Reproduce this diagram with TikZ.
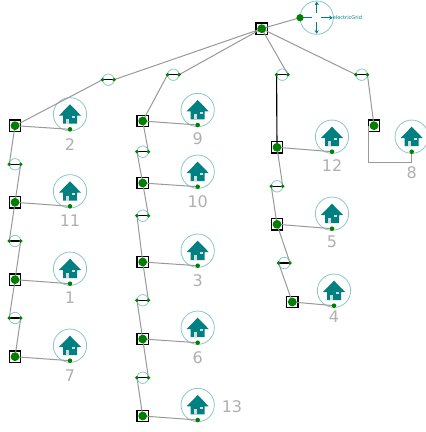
\documentclass[tikz,border=0pt]{standalone}
\usepackage{fontspec}
\setmainfont{DejaVu Sans}
\usetikzlibrary{arrows.meta,calc}
\definecolor{tealmain}{HTML}{008080}
\definecolor{tealring}{HTML}{8CC8C8}
\definecolor{busgreen}{HTML}{008000}
\definecolor{wiregray}{HTML}{999999}
\definecolor{labelgray}{HTML}{B0B0B0}
\definecolor{winGray}{HTML}{D8D8D8}
\tikzset{
  x=0.75pt,y=-0.75pt,
  wire/.style={draw=wiregray,line width=0.75pt},
  heavywire/.style={draw=black,line width=0.85pt},
  busbox/.style={draw=black,line width=1.1pt,fill=white,minimum size=8.6pt,inner sep=0pt,outer sep=0pt,shape=rectangle},
  busdot/.style={circle,fill=busgreen,minimum size=6.6pt,inner sep=0pt,outer sep=0pt},
  enddot/.style={circle,fill=busgreen,minimum size=2.9pt,inner sep=0pt,outer sep=0pt},
  elemring/.style={circle,draw=tealring,line width=0.6pt,minimum size=8.6pt,inner sep=0pt,outer sep=0pt},
  homering/.style={circle,draw=tealring,line width=0.6pt,minimum size=25pt,inner sep=0pt,outer sep=0pt},
  numlabel/.style={text=labelgray,font=\fontsize{12pt}{14pt}\selectfont,inner sep=0pt},
  griparrow/.style={draw=tealmain,line width=0.9pt,-{Stealth[length=2.6pt,width=3.2pt]}},
}
% house ring with icon, its connection dot d<name>
\newcommand{\HomeAt}[3]{%
  \node[homering] (h#1) at (#2,#3) {};
  \begin{scope}[shift={(h#1.center)}]
    \fill[tealmain] (0,-10) -- (11,1.3) -- (7,1.3) -- (7,9.3) -- (-7,9.3) -- (-7,1.3) -- (-11,1.3) -- cycle;
    \fill[winGray] (-4,4.3) rectangle (-0.7,9.3);
    \fill[winGray] (2,1.7) rectangle (5.3,3.7);
  \end{scope}
  \coordinate (d#1) at ($(h#1.center)+(0,15)$);
}
\newcommand{\BusAt}[3]{\node[busbox] (#1) at (#2,#3) {};}
\newcommand{\BusTop}[1]{\node[busdot] at (#1.center) {};}
\newcommand{\ElemAt}[3]{\node[elemring] (#1) at (#2,#3) {};}
\newcommand{\ElemTop}[1]{%
  \draw[heavywire] (#1.west) -- (#1.east);
  \node[enddot] at (#1.west) {};
  \node[enddot] at (#1.east) {};
}
\begin{document}
\begin{tikzpicture}
\useasboundingbox (0,0) rectangle (425,432);
\fill[white] (0,0) rectangle (425,432);
% grid
\node[homering] (grid) at (316.7,17.7) {};
\coordinate (gdot) at (300,17.7);
\draw[griparrow] ($(grid.center)+(0,-4.5)$) -- ($(grid.center)+(0,-16)$);
\draw[griparrow] ($(grid.center)+(0,4.5)$) -- ($(grid.center)+(0,16)$);
\draw[griparrow] ($(grid.center)+(4.5,0)$) -- ($(grid.center)+(16,0)$);
\draw[griparrow,-] ($(grid.center)+(-4.5,0)$) -- (gdot);
\node[text=tealmain,font=\fontsize{3.8pt}{5pt}\selectfont,inner sep=0pt,anchor=west] (gridlabel) at (332.5,17.9) {electricGrid};
% homes
\HomeAt{2}{70}{114.3}
\HomeAt{11}{70}{191.3}
\HomeAt{1}{70}{268.7}
\HomeAt{7}{70}{345.7}
\HomeAt{9}{197.7}{110}
\HomeAt{10}{197.7}{171.7}
\HomeAt{3}{197.7}{250.7}
\HomeAt{6}{197.7}{327.7}
\HomeAt{13}{197.7}{405}
\HomeAt{12}{332}{136.7}
\HomeAt{5}{332}{213.7}
\HomeAt{4}{334}{290.7}
\HomeAt{8}{411.7}{136.7}
% numbers
\node[numlabel] (t2) at (70,144.3) {2};
\node[numlabel] (t11) at (70,220.6) {11};
\node[numlabel] (t1) at (70,298) {1};
\node[numlabel] (t7) at (70,375.5) {7};
\node[numlabel] (t9) at (197.7,138.5) {9};
\node[numlabel] (t10) at (197.7,201.5) {10};
\node[numlabel] (t3) at (197.7,280.3) {3};
\node[numlabel] (t6) at (197.7,357.3) {6};
\node[numlabel] (t13) at (232,407) {13};
\node[numlabel] (t12) at (332,165.5) {12};
\node[numlabel] (t5) at (332,241.5) {5};
\node[numlabel] (t4) at (334,316.5) {4};
\node[numlabel] (t8) at (411.7,172.3) {8};
% buses
\BusAt{root}{261.7}{28.7}
\BusAt{a1}{15}{125.7}\BusAt{a2}{15}{202.3}\BusAt{a3}{15}{279.7}\BusAt{a4}{15}{356.7}
\BusAt{b1}{142.7}{121}\BusAt{b2}{142.7}{183}\BusAt{b3}{142.7}{262}\BusAt{b4}{142.7}{339}\BusAt{b5}{142.7}{416}
\BusAt{c1}{277}{147.3}\BusAt{c2}{277}{224.3}\BusAt{c3}{292.3}{302}
\BusAt{e1}{374}{125.7}
% line elements
\ElemAt{la0}{108.3}{79.7}\ElemAt{la1}{15}{164.3}\ElemAt{la2}{15}{241}\ElemAt{la3}{15}{318}
\ElemAt{lb0}{173.3}{74.7}\ElemAt{lb1}{142.7}{151.7}\ElemAt{lb2}{142.7}{215.7}\ElemAt{lb3}{142.7}{300.3}\ElemAt{lb4}{142.7}{377.7}
\ElemAt{lc0}{282.3}{74.7}\ElemAt{lc1}{277}{186.3}\ElemAt{lc2}{284.3}{263}
\ElemAt{le0}{361.7}{74.7}
% connectors
\draw[wire] (root.center) -- (gdot);
\draw[wire] (root.center) -- (la0.east);
\draw[wire] (la0.west) -- (a1.center);
\draw[wire] (a1.center) -- (la1.west);
\draw[wire] (la1.east) -- (a2.center);
\draw[wire] (a2.center) -- (la2.west);
\draw[wire] (la2.east) -- (a3.center);
\draw[wire] (a3.center) -- (la3.west);
\draw[wire] (la3.east) -- (a4.center);
\draw[wire] (root.center) -- (lb0.east);
\draw[wire] (lb0.west) -- (b1.center);
\draw[wire] (b1.center) -- (lb1.east);
\draw[wire] (lb1.west) -- (b2.center);
\draw[wire] (b2.center) -- (lb2.east);
\draw[wire] (lb2.west) -- (b3.center);
\draw[wire] (b3.center) -- (lb3.east);
\draw[wire] (lb3.west) -- (b4.center);
\draw[wire] (b4.center) -- (lb4.east);
\draw[wire] (lb4.west) -- (b5.center);
\draw[wire] (root.center) -- (lc0.east);
\draw[heavywire] (lc0.west) -- (c1.center);
\draw[wire] (c1.center) -- (lc1.east);
\draw[wire] (lc1.west) -- (c2.center);
\draw[wire] (c2.center) -- (lc2.east);
\draw[wire] (lc2.west) -- (c3.center);
\draw[wire] (root.center) -- (le0.west);
\draw[wire] (le0.east) -- (e1.center);
\draw[wire] (a1.center) -- (d2);
\draw[wire] (a2.center) -- (d11);
\draw[wire] (a3.center) -- (d1);
\draw[wire] (a4.center) -- (d7);
\draw[wire] (b1.center) -- (d9);
\draw[wire] (b2.center) -- (d10);
\draw[wire] (b3.center) -- (d3);
\draw[wire] (b4.center) -- (d6);
\draw[wire] (b5.center) -- (d13);
\draw[wire] (c1.center) -- (d12);
\draw[wire] (c2.center) -- (d5);
\draw[wire] (c3.center) -- (d4);
\draw[wire] (e1.west) -- ++(0,36.6) -| (d8);
% tops
\foreach \n in {root,a1,a2,a3,a4,b1,b2,b3,b4,b5,c1,c2,c3,e1}{\BusTop{\n}}
\foreach \n in {la0,la1,la2,la3,lb0,lb1,lb2,lb3,lb4,lc0,lc1,lc2,le0}{\ElemTop{\n}}
\foreach \n in {2,11,1,7,9,10,3,6,13,12,5,4,8}{\node[enddot,minimum size=3.4pt] at (d\n) {};}
\node[busdot,minimum size=5.4pt] at (gdot) {};
\end{tikzpicture}
\end{document}
